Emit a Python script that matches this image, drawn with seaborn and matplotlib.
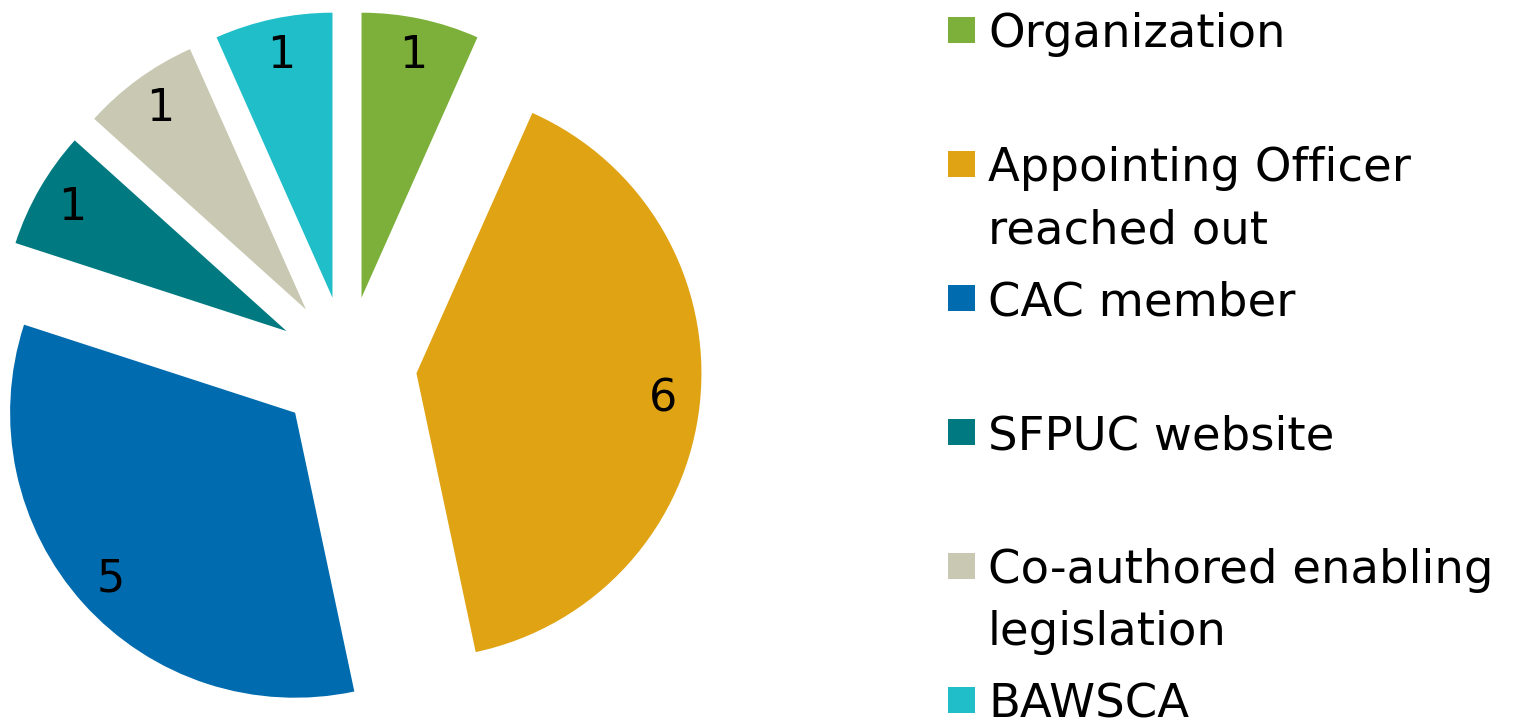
import matplotlib
matplotlib.use("Agg")
import matplotlib.pyplot as plt
import seaborn as sns
from matplotlib.patches import Rectangle

# data
categories = [
    "Organization",
    "Appointing Officer\nreached out",
    "CAC member",
    "SFPUC website",
    "Co-authored enabling\nlegislation",
    "BAWSCA",
]
counts = [1, 6, 5, 1, 1, 1]
colors = ["#7DB03A", "#E0A313", "#006BAE", "#007A80", "#C8C8B3", "#1FBEC9"]

sns.set_theme(style="white")
plt.rcParams["font.family"] = ["DejaVu Sans"]

W, H, DPI = 1516, 720, 100
fig = plt.figure(figsize=(W / DPI, H / DPI), dpi=DPI)
ax = fig.add_axes([0, 0, 1, 1])

# pie geometry in pixels
cx, cy, r = 347, 366, 285
total = sum(counts)

wedges, texts, autotexts = ax.pie(
    counts,
    colors=colors,
    startangle=90,
    counterclock=False,
    explode=[0.245] * len(counts),
    radius=1,
    pctdistance=0.87,
    autopct=lambda p: f"{round(p * total / 100)}",
    wedgeprops=dict(linewidth=0),
    textprops=dict(fontsize=32, color="black"),
)

ax.set_xlim(-cx / r, (W - cx) / r)
ax.set_ylim(-(H - cy) / r, cy / r)
ax.set_aspect("equal")
ax.axis("off")


def fx(px):
    return px / W


def fy(py):
    return 1 - py / H


# legend drawn by hand so the marker sits on the first line of each label
top, step, line_gap = 30, 134, 62
for i, (name, col) in enumerate(zip(categories, colors)):
    yc = top + step * i
    fig.add_artist(Rectangle((fx(948), fy(yc + 13)), 27 / W, 26 / H,
                             transform=fig.transFigure, color=col, lw=0))
    for j, line in enumerate(name.split("\n")):
        fig.text(fx(988), fy(yc + 17 + line_gap * j), line, fontsize=33.5,
                 va="baseline", ha="left", color="black")

fig.savefig("out.png", dpi=DPI)
